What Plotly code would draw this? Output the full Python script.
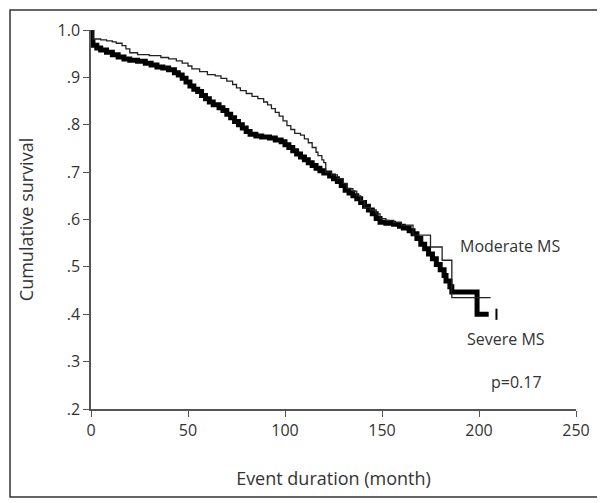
import plotly.graph_objects as go

# Moderate MS (thin line) Kaplan-Meier steps
mod_t = [0, 1, 5, 8, 11, 13, 16, 18, 20, 24, 30, 36, 40, 44, 47, 50, 52, 56, 60, 64, 67, 70,
         73, 75, 77, 80, 83, 86, 89, 91, 93, 95, 97, 99, 101, 103, 105, 108, 110, 112, 114,
         116, 117, 119, 120, 121, 124, 127, 130, 132, 135, 137, 139, 141, 144, 147, 149, 152,
         156, 160, 166, 175, 181, 186, 206]
mod_s = [1.0, .981, .979, .977, .975, .972, .967, .960, .952, .948, .946, .942, .939, .935,
         .930, .924, .918, .912, .906, .903, .898, .892, .885, .878, .872, .866, .860, .855,
         .848, .842, .834, .826, .818, .808, .798, .790, .782, .778, .770, .762, .752, .742,
         .735, .726, .720, .700, .694, .686, .676, .665, .660, .650, .640, .625, .620, .612,
         .602, .598, .594, .588, .567, .542, .514, .435, .435]

# Severe MS (thick line) Kaplan-Meier steps
sev_t = [0, 0.5, 1, 3, 5, 8, 11, 14, 17, 20, 24, 28, 31, 34, 37, 40, 43, 45, 47, 49, 51, 53,
         55, 57, 59, 61, 63, 66, 68, 70, 72, 74, 76, 78, 80, 82, 85, 88, 92, 95, 98, 100, 102,
         104, 106, 108, 110, 112, 114, 116, 118, 120, 123, 125, 127, 129, 131, 133, 135, 137,
         139, 141, 143, 145, 147, 149, 152, 156, 159, 161, 164, 166, 168, 170, 172, 174, 176,
         178, 180, 182, 183, 185, 186, 198, 199, 205]
sev_s = [1.0, .975, .968, .962, .958, .953, .948, .943, .939, .936, .934, .930, .926, .922,
         .920, .916, .910, .905, .898, .890, .882, .875, .870, .862, .855, .848, .842, .836,
         .830, .822, .815, .807, .800, .793, .786, .780, .776, .774, .772, .768, .764, .758,
         .752, .745, .738, .732, .726, .720, .714, .708, .703, .698, .692, .686, .680, .672,
         .662, .656, .650, .644, .636, .628, .620, .612, .602, .594, .592, .590, .586, .582,
         .576, .570, .560, .548, .538, .527, .517, .505, .494, .482, .470, .458, .447, .447,
         .400, .400]

cens_t = [209]
cens_s = [.400]

x_ticks = [0, 50, 100, 150, 200, 250]
y_ticks = [.2, .3, .4, .5, .6, .7, .8, .9, 1.0]
y_labels = [".2", ".3", ".4", ".5", ".6", ".7", ".8", ".9", "1.0"]

FONT = "Open Sans, DejaVu Sans, sans-serif"
TXT = "#333"

fig = go.Figure()
fig.add_trace(go.Scatter(x=sev_t, y=sev_s, mode="lines", line=dict(shape="hv", color="black", width=5),
                         showlegend=False, hoverinfo="skip"))
fig.add_trace(go.Scatter(x=mod_t, y=mod_s, mode="lines", line=dict(shape="hv", color="#222", width=1.3),
                         showlegend=False, hoverinfo="skip"))
fig.add_trace(go.Scatter(x=cens_t, y=cens_s, mode="markers",
                         marker=dict(symbol="line-ns", size=8, line=dict(width=2, color="black")),
                         showlegend=False, hoverinfo="skip"))

fig.add_annotation(x=189, y=.544, text="Moderate MS", showarrow=False, xanchor="left",
                   font=dict(size=16, color=TXT, family=FONT))
fig.add_annotation(x=192.8, y=.348, text="Severe MS", showarrow=False, xanchor="left",
                   font=dict(size=16, color=TXT, family=FONT))
fig.add_annotation(x=205, y=.257, text="p=0.17", showarrow=False, xanchor="left",
                   font=dict(size=16, color=TXT, family=FONT))

fig.add_shape(type="rect", xref="paper", yref="paper", x0=-0.167, x1=1.0454, y0=-0.2322, y1=1.0528,
              line=dict(color="#333", width=1.5))

fig.update_layout(
    width=605, height=503,
    margin=dict(l=83, r=37, t=22, b=102),
    paper_bgcolor="white", plot_bgcolor="white",
    font=dict(family=FONT, size=16, color=TXT),
)
fig.update_xaxes(range=[0, 250], tickvals=x_ticks, ticks="outside", ticklen=6, tickcolor="#555",
                 showline=True, linecolor="#555", linewidth=1.5, showgrid=False, zeroline=False,
                 automargin=False,
                 title=dict(text="Event duration (month)", standoff=32, font=dict(size=18, family=FONT)),
                 tickfont=dict(size=16))
fig.update_yaxes(range=[.2, 1.0], tickvals=y_ticks, ticktext=y_labels, ticks="outside", ticklen=6,
                 tickcolor="#555", showline=True, linecolor="#555", linewidth=1.5, showgrid=False,
                 automargin=False, zeroline=False,
                 title=dict(text="Cumulative survival", standoff=19, font=dict(size=18, family=FONT)),
                 tickfont=dict(size=16))

fig.write_html("out.html")
